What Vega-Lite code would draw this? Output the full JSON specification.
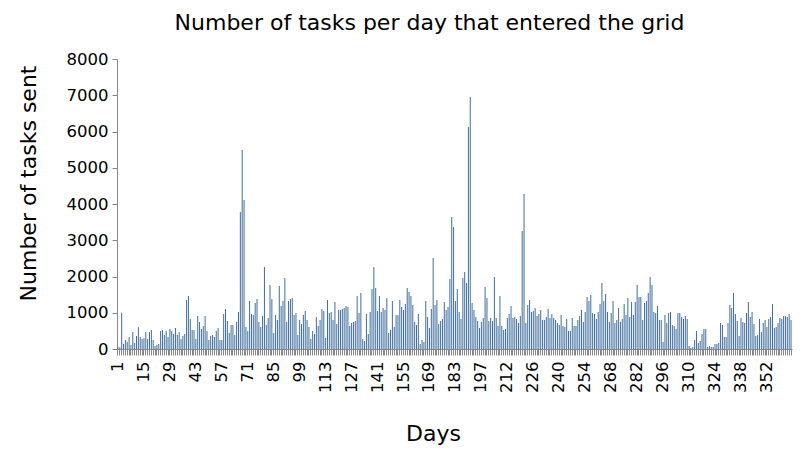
{
"$schema": "https://vega.github.io/schema/vega-lite/v6.json",
"width": 675,
"height": 290,
"autosize": {"type": "none"},
"padding": {"left": 117, "top": 59, "right": 18, "bottom": 101},
"background": "white",
"title": {"text": "Number of tasks per day that entered the grid", "font": "DejaVu Sans", "fontSize": 22, "fontWeight": "normal", "color": "black", "dx": -25, "offset": 16},
"data": {"values": [
{"day":1,"tasks":50},{"day":2,"tasks":50},{"day":3,"tasks":1000},{"day":4,"tasks":140},{"day":5,"tasks":250},{"day":6,"tasks":200},{"day":7,"tasks":330},{"day":8,"tasks":110},{"day":9,"tasks":470},{"day":10,"tasks":165},
{"day":11,"tasks":360},{"day":12,"tasks":600},{"day":13,"tasks":330},{"day":14,"tasks":275},{"day":15,"tasks":300},{"day":16,"tasks":470},{"day":17,"tasks":275},{"day":18,"tasks":470},{"day":19,"tasks":525},{"day":20,"tasks":250},
{"day":21,"tasks":80},{"day":22,"tasks":110},{"day":23,"tasks":140},{"day":24,"tasks":500},{"day":25,"tasks":525},{"day":26,"tasks":385},{"day":27,"tasks":500},{"day":28,"tasks":330},{"day":29,"tasks":550},{"day":30,"tasks":500},
{"day":31,"tasks":415},{"day":32,"tasks":580},{"day":33,"tasks":385},{"day":34,"tasks":470},{"day":35,"tasks":276},{"day":36,"tasks":359},{"day":37,"tasks":414},{"day":38,"tasks":1352},{"day":39,"tasks":1463},{"day":40,"tasks":828},
{"day":41,"tasks":524},{"day":42,"tasks":524},{"day":43,"tasks":276},{"day":44,"tasks":911},{"day":45,"tasks":745},{"day":46,"tasks":552},{"day":47,"tasks":635},{"day":48,"tasks":911},{"day":49,"tasks":497},{"day":50,"tasks":248},
{"day":51,"tasks":359},{"day":52,"tasks":386},{"day":53,"tasks":331},{"day":54,"tasks":497},{"day":55,"tasks":580},{"day":56,"tasks":248},{"day":57,"tasks":248},{"day":58,"tasks":966},{"day":59,"tasks":1104},{"day":60,"tasks":773},
{"day":61,"tasks":442},{"day":62,"tasks":662},{"day":63,"tasks":662},{"day":64,"tasks":386},{"day":65,"tasks":745},{"day":66,"tasks":1021},{"day":67,"tasks":3781},{"day":68,"tasks":5492},{"day":69,"tasks":4112},{"day":70,"tasks":607},
{"day":71,"tasks":497},{"day":72,"tasks":1325},{"day":73,"tasks":966},{"day":74,"tasks":938},{"day":75,"tasks":1270},{"day":76,"tasks":1380},{"day":77,"tasks":745},{"day":78,"tasks":607},{"day":79,"tasks":911},{"day":80,"tasks":2263},
{"day":81,"tasks":662},{"day":82,"tasks":856},{"day":83,"tasks":1766},{"day":84,"tasks":1380},{"day":85,"tasks":442},{"day":86,"tasks":938},{"day":87,"tasks":800},{"day":88,"tasks":1739},{"day":89,"tasks":1187},{"day":90,"tasks":1325},
{"day":91,"tasks":1960},{"day":92,"tasks":745},{"day":93,"tasks":1325},{"day":94,"tasks":1380},{"day":95,"tasks":1408},{"day":96,"tasks":938},{"day":97,"tasks":994},{"day":98,"tasks":386},{"day":99,"tasks":800},{"day":100,"tasks":690},
{"day":101,"tasks":938},{"day":102,"tasks":1049},{"day":103,"tasks":800},{"day":104,"tasks":607},{"day":105,"tasks":276},{"day":106,"tasks":497},{"day":107,"tasks":414},{"day":108,"tasks":883},{"day":109,"tasks":635},{"day":110,"tasks":800},
{"day":111,"tasks":1104},{"day":112,"tasks":1049},{"day":113,"tasks":304},{"day":114,"tasks":1352},{"day":115,"tasks":994},{"day":116,"tasks":1021},{"day":117,"tasks":800},{"day":118,"tasks":1297},{"day":119,"tasks":690},{"day":120,"tasks":1076},
{"day":121,"tasks":1076},{"day":122,"tasks":1104},{"day":123,"tasks":1132},{"day":124,"tasks":1187},{"day":125,"tasks":1159},{"day":126,"tasks":635},{"day":127,"tasks":718},{"day":128,"tasks":745},{"day":129,"tasks":773},{"day":130,"tasks":1463},
{"day":131,"tasks":994},{"day":132,"tasks":1546},{"day":133,"tasks":276},{"day":134,"tasks":221},{"day":135,"tasks":966},{"day":136,"tasks":414},{"day":137,"tasks":1021},{"day":138,"tasks":1656},{"day":139,"tasks":2263},{"day":140,"tasks":1684},
{"day":141,"tasks":1049},{"day":142,"tasks":1463},{"day":143,"tasks":1021},{"day":144,"tasks":1132},{"day":145,"tasks":1076},{"day":146,"tasks":1408},{"day":147,"tasks":442},{"day":148,"tasks":524},{"day":149,"tasks":1325},{"day":150,"tasks":607},
{"day":151,"tasks":938},{"day":152,"tasks":938},{"day":153,"tasks":1352},{"day":154,"tasks":1159},{"day":155,"tasks":1076},{"day":156,"tasks":1242},{"day":157,"tasks":1684},{"day":158,"tasks":1573},{"day":159,"tasks":1463},{"day":160,"tasks":1214},
{"day":161,"tasks":745},{"day":162,"tasks":662},{"day":163,"tasks":966},{"day":164,"tasks":138},{"day":165,"tasks":248},{"day":166,"tasks":193},{"day":167,"tasks":1325},{"day":168,"tasks":883},{"day":169,"tasks":580},{"day":170,"tasks":1104},
{"day":171,"tasks":2512},{"day":172,"tasks":1214},{"day":173,"tasks":1352},{"day":174,"tasks":690},{"day":175,"tasks":773},{"day":176,"tasks":828},{"day":177,"tasks":1297},{"day":178,"tasks":1076},{"day":179,"tasks":1159},{"day":180,"tasks":1932},
{"day":181,"tasks":3643},{"day":182,"tasks":3367},{"day":183,"tasks":1325},{"day":184,"tasks":1656},{"day":185,"tasks":1021},{"day":186,"tasks":828},{"day":187,"tasks":1960},{"day":188,"tasks":2125},{"day":189,"tasks":1822},{"day":190,"tasks":6127},
{"day":191,"tasks":6955},{"day":192,"tasks":1270},{"day":193,"tasks":1076},{"day":194,"tasks":883},{"day":195,"tasks":773},{"day":196,"tasks":580},{"day":197,"tasks":745},{"day":198,"tasks":856},{"day":199,"tasks":1711},
{"day":201,"tasks":1408},{"day":202,"tasks":773},{"day":203,"tasks":856},{"day":204,"tasks":773},{"day":205,"tasks":1987},{"day":206,"tasks":856},{"day":207,"tasks":635},{"day":208,"tasks":1463},{"day":209,"tasks":635},{"day":210,"tasks":524},
{"day":211,"tasks":552},{"day":212,"tasks":856},{"day":213,"tasks":966},{"day":214,"tasks":1187},{"day":215,"tasks":856},{"day":216,"tasks":883},{"day":217,"tasks":828},{"day":218,"tasks":718},{"day":219,"tasks":911},{"day":220,"tasks":3257},
{"day":221,"tasks":4278},{"day":222,"tasks":718},{"day":223,"tasks":1214},{"day":224,"tasks":1352},{"day":225,"tasks":1021},{"day":226,"tasks":1049},{"day":227,"tasks":1132},{"day":228,"tasks":911},{"day":229,"tasks":966},{"day":230,"tasks":1076},
{"day":231,"tasks":800},{"day":232,"tasks":800},{"day":233,"tasks":883},{"day":234,"tasks":1104},{"day":235,"tasks":856},{"day":236,"tasks":966},{"day":237,"tasks":856},{"day":238,"tasks":800},{"day":239,"tasks":718},{"day":240,"tasks":662},
{"day":241,"tasks":938},{"day":242,"tasks":635},{"day":243,"tasks":607},{"day":244,"tasks":828},{"day":245,"tasks":497},{"day":246,"tasks":497},{"day":247,"tasks":856},{"day":248,"tasks":635},{"day":249,"tasks":635},{"day":250,"tasks":800},
{"day":251,"tasks":911},{"day":252,"tasks":1076},{"day":253,"tasks":745},{"day":254,"tasks":1021},{"day":255,"tasks":1435},{"day":256,"tasks":1325},{"day":257,"tasks":1490},{"day":258,"tasks":994},{"day":259,"tasks":966},{"day":260,"tasks":828},
{"day":261,"tasks":1021},{"day":262,"tasks":1242},{"day":263,"tasks":1822},{"day":264,"tasks":1325},{"day":265,"tasks":1518},{"day":266,"tasks":1021},{"day":267,"tasks":745},{"day":268,"tasks":994},{"day":269,"tasks":1325},{"day":270,"tasks":718},
{"day":271,"tasks":800},{"day":272,"tasks":1132},{"day":273,"tasks":745},{"day":274,"tasks":828},{"day":275,"tasks":1242},{"day":276,"tasks":938},{"day":277,"tasks":1408},{"day":278,"tasks":883},{"day":279,"tasks":1297},{"day":280,"tasks":938},
{"day":281,"tasks":1297},{"day":282,"tasks":1766},{"day":283,"tasks":1435},{"day":284,"tasks":1435},{"day":285,"tasks":800},{"day":286,"tasks":1270},{"day":287,"tasks":1325},{"day":288,"tasks":1546},{"day":289,"tasks":1987},{"day":290,"tasks":1766},
{"day":291,"tasks":1021},{"day":292,"tasks":994},{"day":293,"tasks":1187},{"day":294,"tasks":800},{"day":295,"tasks":800},{"day":296,"tasks":193},{"day":297,"tasks":938},{"day":298,"tasks":718},{"day":299,"tasks":994},{"day":300,"tasks":1021},
{"day":301,"tasks":662},{"day":302,"tasks":635},{"day":303,"tasks":552},{"day":304,"tasks":994},{"day":305,"tasks":994},{"day":306,"tasks":883},{"day":307,"tasks":828},{"day":308,"tasks":911},{"day":309,"tasks":828},{"day":310,"tasks":83},
{"day":311,"tasks":28},{"day":312,"tasks":55},{"day":313,"tasks":248},{"day":314,"tasks":497},{"day":315,"tasks":166},{"day":316,"tasks":221},{"day":317,"tasks":414},{"day":318,"tasks":552},{"day":319,"tasks":552},{"day":320,"tasks":55},
{"day":321,"tasks":83},{"day":322,"tasks":55},{"day":323,"tasks":55},{"day":324,"tasks":138},{"day":325,"tasks":138},{"day":326,"tasks":166},{"day":327,"tasks":718},{"day":328,"tasks":662},{"day":329,"tasks":331},{"day":330,"tasks":331},
{"day":331,"tasks":718},{"day":332,"tasks":1214},{"day":333,"tasks":1132},{"day":334,"tasks":1546},{"day":335,"tasks":966},{"day":336,"tasks":773},{"day":337,"tasks":359},{"day":338,"tasks":856},{"day":339,"tasks":745},{"day":340,"tasks":718},
{"day":341,"tasks":994},{"day":342,"tasks":1297},{"day":343,"tasks":883},{"day":344,"tasks":1021},{"day":345,"tasks":690},{"day":346,"tasks":359},{"day":347,"tasks":386},{"day":348,"tasks":828},{"day":349,"tasks":469},{"day":350,"tasks":718},
{"day":351,"tasks":800},{"day":352,"tasks":607},{"day":353,"tasks":828},{"day":354,"tasks":883},{"day":355,"tasks":1242},{"day":356,"tasks":580},{"day":357,"tasks":607},{"day":358,"tasks":718},{"day":359,"tasks":856},{"day":360,"tasks":828},
{"day":361,"tasks":911},{"day":362,"tasks":911},{"day":363,"tasks":883},{"day":364,"tasks":966},{"day":365,"tasks":800}
]},
"mark": {"type": "bar", "color": "#41709F"},
"encoding": {
  "x": {"field": "day", "type": "ordinal", "scale": {"paddingInner": 0.45, "paddingOuter": 0.25},
    "axis": {"title": "Days", "titleFont": "DejaVu Sans", "titleFontSize": 22, "titleFontWeight": "normal", "titleColor": "black", "titleX": 316, "titleY": 84, "titleBaseline": "middle",
      "labelAngle": 270, "labelFont": "DejaVu Sans", "labelFontSize": 16.5, "labelColor": "black", "labelPadding": 6, "labelOverlap": false, "labelBound": false,
      "labelExpr": "indexof([1,15,29,43,57,71,85,99,113,127,141,155,169,183,197,212,226,240,254,268,282,296,310,324,338,352], datum.value) >= 0 ? datum.label : ''",
      "tickColor": "#868686", "tickSize": 6, "domainColor": "#868686"}},
  "y": {"field": "tasks", "type": "quantitative", "scale": {"domain": [0, 8000]},
    "axis": {"title": "Number of tasks sent", "titleFont": "DejaVu Sans", "titleFontSize": 22, "titleFontWeight": "normal", "titleColor": "black", "titleX": -89, "titleY": 124, "titleAngle": 270, "titleBaseline": "middle", "titleAlign": "center",
      "values": [0, 1000, 2000, 3000, 4000, 5000, 6000, 7000, 8000], "format": "d", "grid": false, "labelFlush": false,
      "labelFont": "DejaVu Sans", "labelFontSize": 16.5, "labelColor": "black", "labelPadding": 4,
      "tickColor": "#868686", "tickSize": 5, "domainColor": "#868686"}}
},
"config": {"view": {"stroke": null}}
}
